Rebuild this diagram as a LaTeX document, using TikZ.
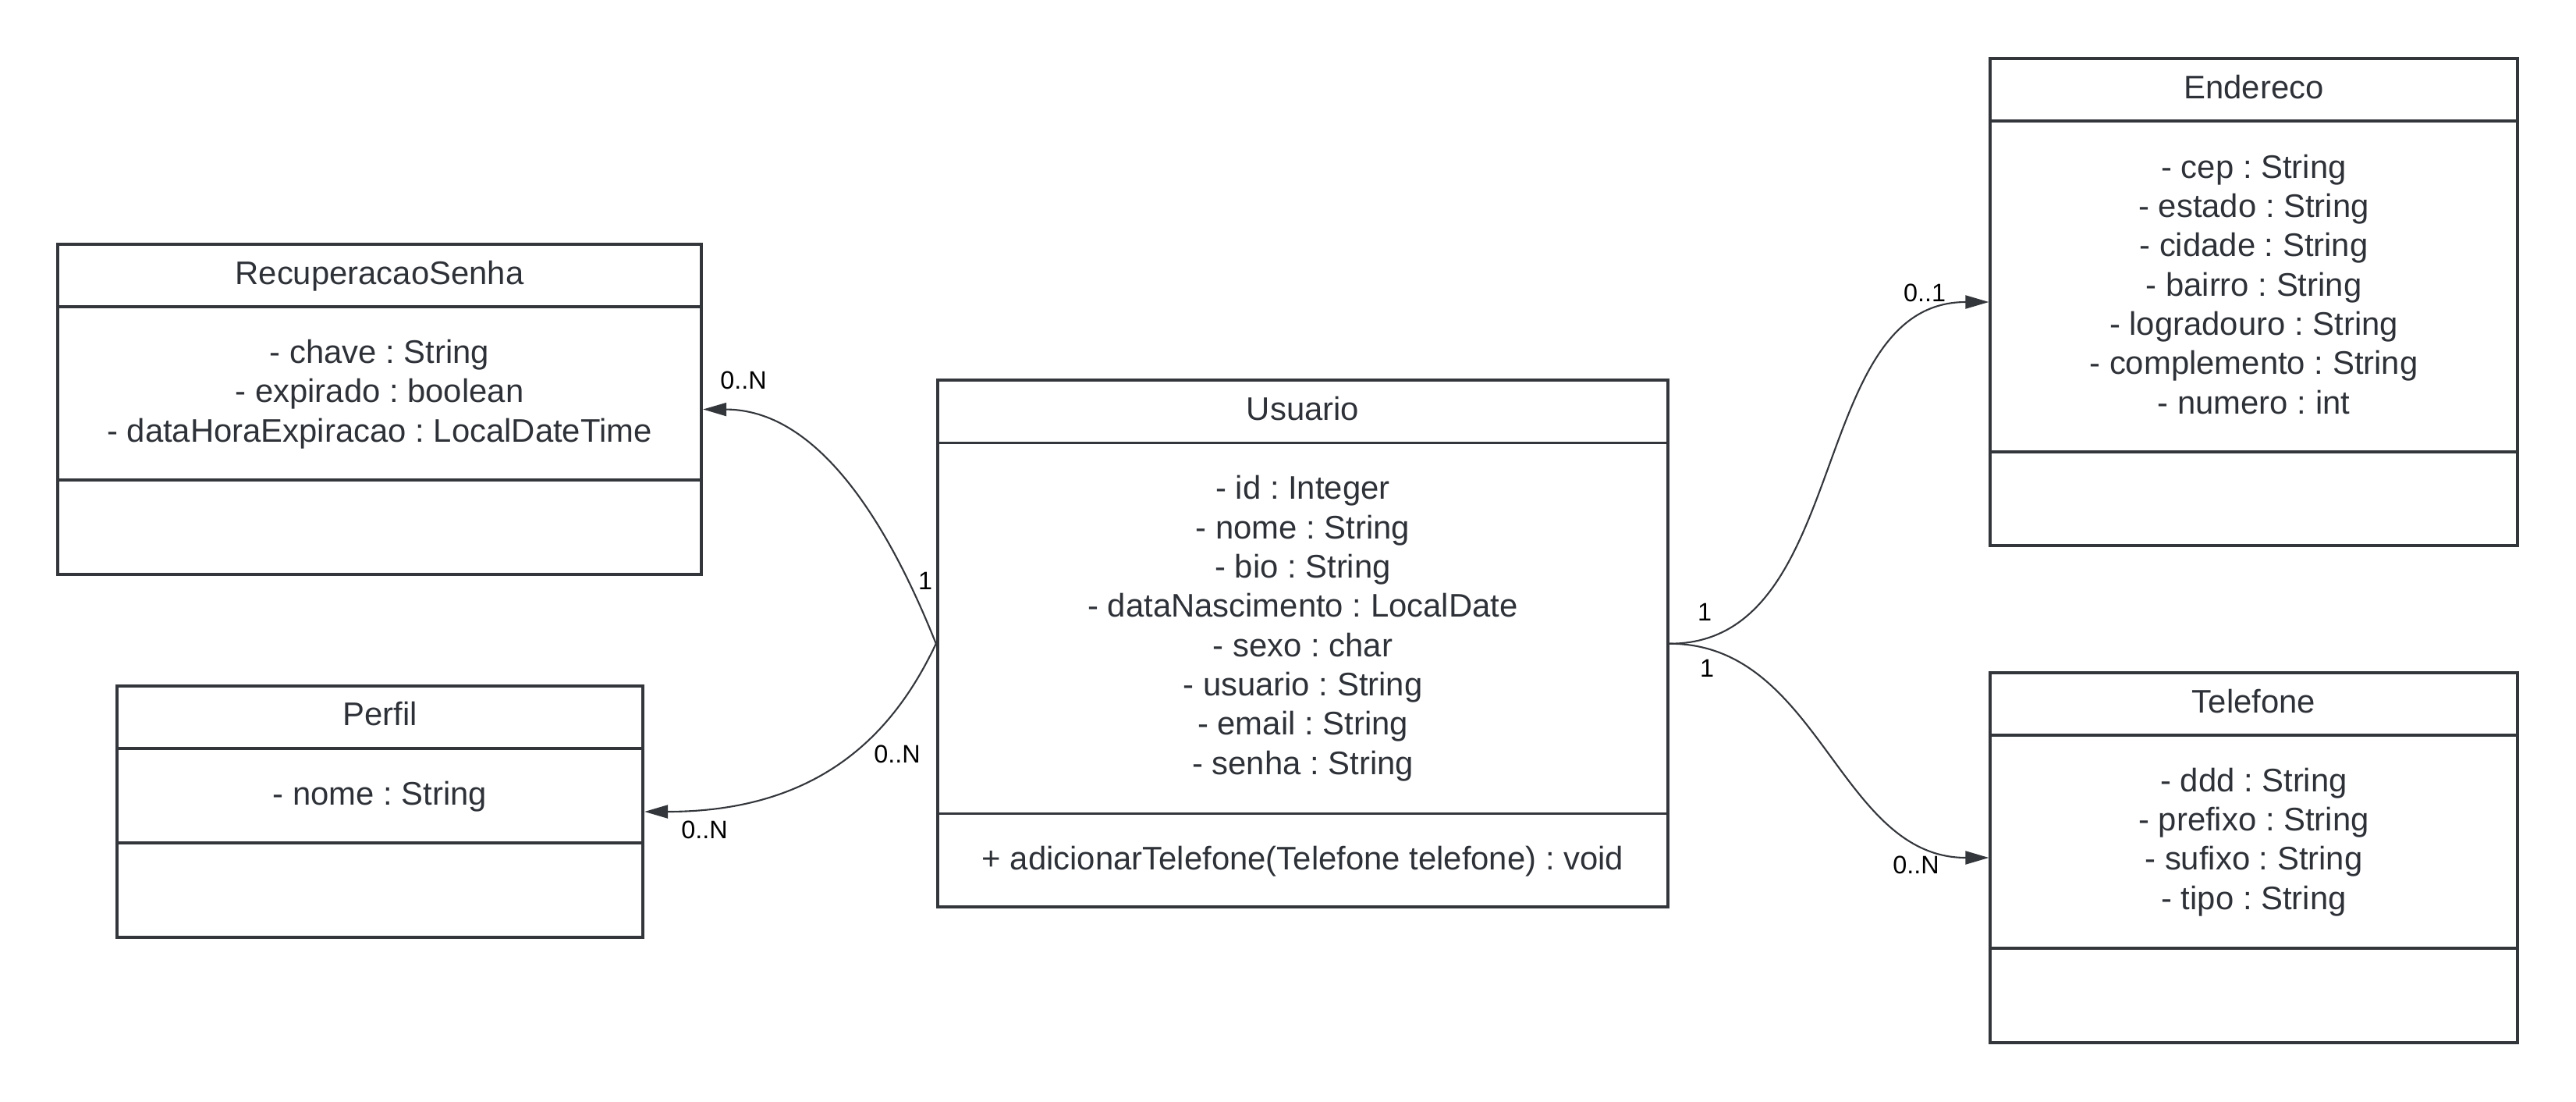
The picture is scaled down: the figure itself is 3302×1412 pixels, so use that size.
\documentclass[tikz,border=0pt]{standalone}
\usepackage{fontspec}
\setmainfont{Liberation Sans}
\usetikzlibrary{arrows.meta, positioning}
\definecolor{umlline}{HTML}{33363B}
\definecolor{umltext}{HTML}{2E3238}
\frenchspacing

\begin{document}
\begin{tikzpicture}[x=0.01cm, y=-0.01cm,
    classbox/.style={draw=umlline, line width=1.1pt, inner sep=0pt},
    classname/.style={text=umltext, font=\fontsize{11.9}{14.3}\selectfont, text height=0.72em, text depth=0pt, inner sep=0pt},
    members/.style={text=umltext, font=\fontsize{11.9}{14.3}\selectfont, align=center, anchor=base, inner sep=0pt},
    divider/.style={draw=umlline, line width=1.1pt},
    assoc/.style={draw=umlline, line width=0.6pt, -{Triangle[length=3mm, width=1.7mm]}},
    mult/.style={text=black, font=\fontsize{9.2}{11}\selectfont, text height=0.72em, text depth=0pt, inner sep=0pt}]
    \useasboundingbox (0,0) rectangle (3302,1412);

    % classes (members nodes sit on the baseline of their last line)
    \node[classbox, minimum width=8.25cm, minimum height=4.23cm] (recsenha) at (486.5,524.5) {};
    \node[classname] (recsenhaname) at (486.5,352) {RecuperacaoSenha};
    \node[members] (recsenhaattr) at (486.5,566) {- chave : String\\- expirado : boolean\\- dataHoraExpiracao : LocalDateTime};
    \draw[divider] (recsenha.west |- 0,393) -- (recsenha.east |- 0,393);
    \draw[divider] (recsenha.west |- 0,615) -- (recsenha.east |- 0,615);

    \node[classbox, minimum width=6.74cm, minimum height=3.22cm] (perfil) at (487,1040) {};
    \node[classname] (perfilname) at (487,917) {Perfil};
    \node[members] (perfilattr) at (487,1031) {- nome : String};
    \draw[divider] (perfil.west |- 0,959) -- (perfil.east |- 0,959);
    \draw[divider] (perfil.west |- 0,1080) -- (perfil.east |- 0,1080);

    \node[classbox, minimum width=9.36cm, minimum height=6.745cm] (usuario) at (1670,824.75) {};
    \node[classname] (usuarioname) at (1670,526) {Usuario};
    \node[members] (usuarioattr) at (1670,992) {- id : Integer\\- nome : String\\- bio : String\\- dataNascimento : LocalDate\\- sexo : char\\- usuario : String\\- email : String\\- senha : String};
    \node[members] (usuariometh) at (1670,1114) {+ adicionarTelefone(Telefone telefone) : void};
    \draw[divider] (usuario.west |- 0,567.5) -- (usuario.east |- 0,567.5);
    \draw[divider] (usuario.west |- 0,1042.5) -- (usuario.east |- 0,1042.5);

    \node[classbox, minimum width=6.75cm, minimum height=6.24cm] (endereco) at (2889,387) {};
    \node[classname] (endereconame) at (2889,114) {Endereco};
    \node[members] (enderecoattr) at (2889,530) {- cep : String\\- estado : String\\- cidade : String\\- bairro : String\\- logradouro : String\\- complemento : String\\- numero : int};
    \draw[divider] (endereco.west |- 0,155) -- (endereco.east |- 0,155);
    \draw[divider] (endereco.west |- 0,579) -- (endereco.east |- 0,579);

    \node[classbox, minimum width=6.75cm, minimum height=4.74cm] (telefone) at (2889,1099) {};
    \node[classname] (telefonename) at (2889,901) {Telefone};
    \node[members] (telefoneattr) at (2889,1165) {- ddd : String\\- prefixo : String\\- sufixo : String\\- tipo : String};
    \draw[divider] (telefone.west |- 0,942) -- (telefone.east |- 0,942);
    \draw[divider] (telefone.west |- 0,1215) -- (telefone.east |- 0,1215);

    % associations
    \draw[assoc] (usuario.west) .. controls (1150,700) and (1060,525) .. (recsenha.east);
    \draw[assoc] (usuario.west) .. controls (1150,930) and (1060,1040) .. (perfil.east);
    \draw[assoc] (usuario.east) to[out=0, in=180] (endereco.west);
    \draw[assoc] (usuario.east) to[out=0, in=180] (telefone.west);

    % multiplicities
    \node[mult] (m1) at (953,486) {0..N};
    \node[mult] (m2) at (1186,743) {1};
    \node[mult] (m3) at (1150,965) {0..N};
    \node[mult] (m4) at (903,1062) {0..N};
    \node[mult] (m5) at (2185,783) {1};
    \node[mult] (m6) at (2188,855) {1};
    \node[mult] (m7) at (2467,374) {0..1};
    \node[mult] (m8) at (2456,1107) {0..N};
\end{tikzpicture}
\end{document}
